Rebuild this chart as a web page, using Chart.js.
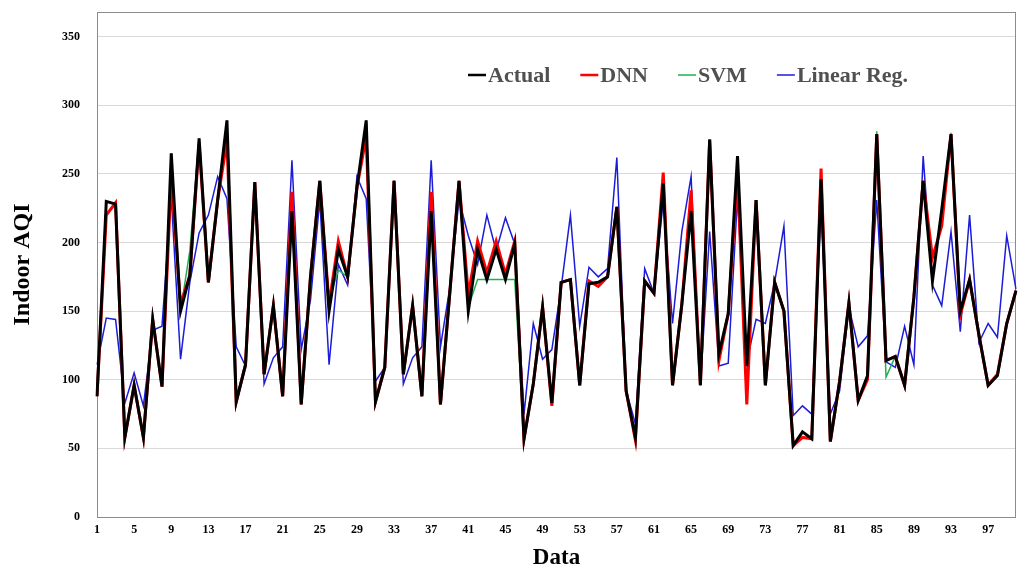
<!DOCTYPE html>
<html>
<head>
<meta charset="utf-8">
<script src="https://cdn.jsdelivr.net/npm/chart.js@4.4.0/dist/chart.umd.min.js"></script>
<style>
    html, body { margin: 0; padding: 0; background: #fff; }
</style>
</head>
<body>
<canvas id="aqiChart" width="1022" height="568"></canvas>
<script>
// Datos (100 muestras)
const dataIndex = Array.from({ length: 100 }, (_, i) => String(i + 1));

const actual = [88, 230, 228, 58, 96, 58, 144, 95, 265, 150,
    176, 276, 171, 231, 289, 84, 111, 244, 104, 154,
    88, 223, 82, 175, 245, 150, 195, 175, 240, 289,
    84, 109, 245, 104, 154, 88, 223, 82, 163, 245,
    150, 195, 173, 195, 173, 199, 57, 97, 153, 83,
    171, 173, 96, 170, 171, 175, 226, 92, 58, 172,
    163, 243, 96, 155, 223, 96, 275, 119, 148, 263,
    110, 231, 96, 171, 150, 52, 62, 57, 246, 55,
    99, 156, 85, 103, 279, 114, 117, 96, 160, 245,
    172, 224, 279, 150, 173, 133, 96, 103, 141, 165];

const dnn = [88, 220, 229, 58, 96, 58, 144, 95, 248, 155,
    176, 272, 171, 231, 274, 84, 111, 244, 104, 154,
    88, 237, 82, 175, 245, 155, 201, 175, 240, 277,
    84, 109, 245, 104, 154, 88, 237, 82, 163, 245,
    162, 201, 178, 201, 177, 201, 57, 97, 153, 81,
    171, 173, 96, 172, 168, 175, 226, 92, 56, 172,
    163, 251, 96, 155, 238, 96, 275, 114, 148, 250,
    82, 231, 96, 171, 150, 52, 58, 57, 254, 55,
    99, 156, 85, 100, 279, 114, 117, 96, 160, 245,
    189, 212, 279, 147, 173, 133, 96, 104, 141, 165];

const svm = [88, 230, 228, 58, 96, 58, 144, 95, 265, 150,
    194, 276, 171, 231, 289, 84, 111, 244, 104, 154,
    88, 223, 82, 175, 245, 158, 180, 175, 240, 289,
    84, 109, 245, 104, 154, 88, 223, 82, 163, 245,
    153, 173, 173, 173, 173, 173, 57, 97, 153, 83,
    171, 173, 96, 170, 171, 175, 226, 92, 58, 172,
    163, 243, 96, 155, 223, 96, 275, 119, 148, 263,
    110, 231, 96, 171, 150, 52, 62, 57, 246, 55,
    99, 156, 85, 103, 281, 102, 117, 96, 160, 245,
    172, 224, 280, 150, 173, 133, 96, 103, 141, 165];

const linearReg = [111, 145, 144, 83, 105, 81, 136, 139, 233, 115,
    171, 207, 220, 248, 232, 124, 110, 244, 97, 116,
    124, 260, 122, 158, 231, 111, 184, 169, 248, 232,
    99, 109, 245, 97, 116, 124, 260, 124, 167, 231,
    205, 184, 220, 194, 218, 199, 75, 141, 115, 122,
    167, 220, 139, 182, 175, 181, 262, 92, 68, 181,
    163, 231, 141, 208, 248, 96, 208, 110, 112, 233,
    113, 144, 141, 171, 212, 74, 81, 75, 226, 75,
    92, 153, 124, 132, 231, 113, 109, 139, 111, 263,
    169, 154, 208, 135, 220, 127, 141, 131, 205, 166];

const serif = '"Liberation Serif", "Times New Roman", serif';

// Marco gris alrededor del área del gráfico
const frameBox = {
    id: 'frameBox',
    beforeDatasetsDraw(chart) {
        const { ctx, chartArea: a } = chart;
        ctx.save();
        ctx.strokeStyle = '#8c8c8c';
        ctx.lineWidth = 1;
        ctx.strokeRect(a.left + 0.5, a.top + 0.5, a.right - a.left - 1, a.bottom - a.top);
        ctx.restore();
    }
};

// Leyenda dentro del área, arriba a la derecha
const insideLegend = {
    id: 'insideLegend',
    afterDraw(chart) {
        const ctx = chart.ctx;
        let x = 468;
        const y = 75;
        ctx.save();
        ctx.font = 'bold 22px ' + serif;
        ctx.textBaseline = 'middle';
        chart.data.datasets.forEach(ds => {
            ctx.strokeStyle = ds.borderColor;
            ctx.lineWidth = ds.borderWidth > 2 ? 2.5 : 1.5;
            ctx.beginPath();
            ctx.moveTo(x, y);
            ctx.lineTo(x + 18, y);
            ctx.stroke();
            ctx.fillStyle = '#505050';
            ctx.fillText(ds.label, x + 20, y + 1);
            x += 20 + ctx.measureText(ds.label).width + 30;
        });
        ctx.restore();
    }
};

new Chart(document.getElementById('aqiChart').getContext('2d'), {
    type: 'line',
    data: {
        labels: dataIndex,
        datasets: [
            { label: 'Actual', data: actual, borderColor: '#000000', borderWidth: 3 },
            { label: 'DNN', data: dnn, borderColor: '#ff0000', borderWidth: 3 },
            { label: 'SVM', data: svm, borderColor: '#1fb04f', borderWidth: 1.5 },
            { label: 'Linear Reg.', data: linearReg, borderColor: '#1c1cd8', borderWidth: 1.5 }
        ]
    },
    options: {
        responsive: false,
        animation: false,
        elements: {
            point: { radius: 0 },
            line: { tension: 0, fill: false }
        },
        layout: { padding: { left: 0, right: 5, top: 12, bottom: 0 } },
        plugins: {
            legend: { display: false },
            tooltip: { enabled: false }
        },
        scales: {
            x: {
                offset: false,
                grid: { display: false, drawTicks: false },
                border: { display: false },
                ticks: {
                    autoSkip: false,
                    maxRotation: 0,
                    padding: 6,
                    color: '#000',
                    font: { family: serif, size: 12, weight: 'bold' },
                    callback: function (value, index) {
                        return index % 4 === 0 ? this.getLabelForValue(value) : '';
                    }
                },
                title: {
                    display: true,
                    text: 'Data',
                    color: '#000',
                    padding: { top: 0, bottom: 0 },
                    font: { family: serif, size: 23, weight: 'bold', lineHeight: 0.9 }
                },
                afterFit: s => { s.height = 51; }
            },
            y: {
                min: 0,
                max: 368,
                grid: { color: '#d9d9d9', lineWidth: 1, drawTicks: false },
                border: { display: false },
                afterBuildTicks: axis => {
                    axis.ticks = axis.ticks.filter(t => t.value % 50 === 0);
                },
                ticks: {
                    stepSize: 50,
                    padding: 17,
                    color: '#000',
                    font: { family: serif, size: 12, weight: 'bold' }
                },
                title: {
                    display: true,
                    text: 'Indoor AQI',
                    color: '#000',
                    padding: { top: 8, bottom: 0 },
                    font: { family: serif, size: 24, weight: 'bold', lineHeight: 1.2 }
                },
                afterFit: s => {
                    s.width = 97;
                    s.paddingTop = 0;
                    s.paddingBottom = 0;
                }
            }
        }
    },
    plugins: [frameBox, insideLegend]
});
</script>
</body>
</html>
